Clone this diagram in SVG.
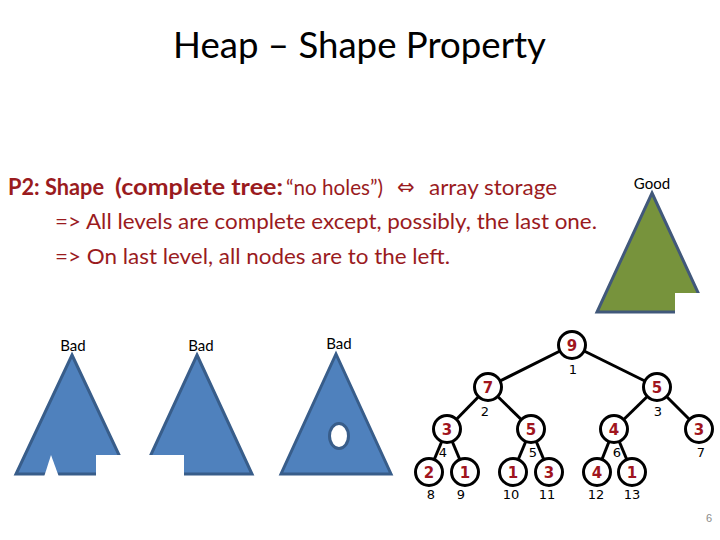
<svg xmlns="http://www.w3.org/2000/svg" width="720" height="540" viewBox="0 0 720 540">
<style>
.title{font-family:Lato,"Liberation Sans",sans-serif;font-size:36px;fill:#000}
.body{font-family:Lato,"Liberation Sans",sans-serif;font-size:22px;fill:#9A1B1E}
.b{font-weight:bold}
.lbl{font-family:Lato,"Liberation Sans",sans-serif;font-size:15px;fill:#000;text-anchor:middle}
.bad{fill:#4F81BD;stroke:#385D8A;stroke-width:3;stroke-linejoin:miter}
.good{fill:#77933C;stroke:#41587A;stroke-width:3}
.wh{fill:#fff;stroke:none}
.node circle{fill:#fff;stroke:#000;stroke-width:3}
.node text{font-family:"DejaVu Sans",Verdana,sans-serif;font-size:15px;font-weight:bold;fill:#A0151E;text-anchor:middle}
.idx{font-family:"DejaVu Sans",Verdana,sans-serif;font-size:13px;fill:#000;text-anchor:middle}
.edges line{stroke:#000;stroke-width:3}
</style>
<rect width="720" height="540" fill="#fff"/>
<text class="title" x="173" y="58" textLength="373" lengthAdjust="spacingAndGlyphs">Heap – Shape Property</text>

<g id="text-lines">
<text class="body"><tspan class="b" x="8" y="195" textLength="96" lengthAdjust="spacingAndGlyphs">P2: Shape</tspan><tspan class="b" x="115" y="195" textLength="168" lengthAdjust="spacingAndGlyphs">(complete tree:</tspan><tspan x="286" y="195" textLength="97" lengthAdjust="spacingAndGlyphs">“no holes”)</tspan><tspan x="397" y="194" style="font-family:'DejaVu Sans',sans-serif;font-size:21px">⇔</tspan><tspan x="429" y="195" textLength="128" lengthAdjust="spacingAndGlyphs">array storage</tspan></text>
<text class="body" x="55" y="229" textLength="542" lengthAdjust="spacingAndGlyphs">=&gt; All levels are complete except, possibly, the last one.</text>
<text class="body" x="55" y="264" textLength="395" lengthAdjust="spacingAndGlyphs">=&gt; On last level, all nodes are to the left.</text>
</g>

<g id="good-shape">
<text class="lbl" x="652" y="189">Good</text>
<polygon class="good" points="652,193 707,312 597,312"/>
<rect class="wh" x="675" y="293" width="40" height="24"/>
</g>

<g id="bad1">
<text class="lbl" x="73" y="351">Bad</text>
<polygon class="bad" points="72,355 128,474 16,474"/>
<rect class="wh" x="96" y="455" width="36" height="24"/>
<polygon class="wh" points="44,477 51,455 59,477"/>
</g>

<g id="bad2">
<text class="lbl" x="201" y="351">Bad</text>
<polygon class="bad" points="197,355 252,474 142,474"/>
<rect class="wh" x="136" y="455" width="48" height="24"/>
</g>

<g id="bad3">
<text class="lbl" x="339" y="349">Bad</text>
<polygon class="bad" points="336,354 391,474 281,474"/>
<ellipse cx="339" cy="436" rx="9.5" ry="12.5" fill="#fff" stroke="#385D8A" stroke-width="3"/>
</g>

<g class="edges" id="connectors">
<line x1="572" y1="345" x2="488" y2="387"/>
<line x1="572" y1="345" x2="657" y2="387"/>
<line x1="488" y1="387" x2="447" y2="429"/>
<line x1="488" y1="387" x2="531" y2="429"/>
<line x1="657" y1="387" x2="614" y2="429"/>
<line x1="657" y1="387" x2="699" y2="429"/>
<line x1="447" y1="429" x2="429" y2="472"/>
<line x1="447" y1="429" x2="465" y2="472"/>
<line x1="531" y1="429" x2="513" y2="472"/>
<line x1="531" y1="429" x2="549" y2="472"/>
<line x1="614" y1="429" x2="597" y2="472"/>
<line x1="614" y1="429" x2="632" y2="472"/>
</g>

<g id="n1" class="node"><circle cx="572" cy="345" r="13.5"/><text x="572" y="350.5">9</text></g>
<g id="n2" class="node"><circle cx="488" cy="387" r="13.5"/><text x="488" y="392.5">7</text></g>
<g id="n3" class="node"><circle cx="657" cy="387" r="13.5"/><text x="657" y="392.5">5</text></g>
<g id="n4" class="node"><circle cx="447" cy="429" r="13.5"/><text x="447" y="434.5">3</text></g>
<g id="n5" class="node"><circle cx="531" cy="429" r="13.5"/><text x="531" y="434.5">5</text></g>
<g id="n6" class="node"><circle cx="614" cy="429" r="13.5"/><text x="614" y="434.5">4</text></g>
<g id="n7" class="node"><circle cx="699" cy="429" r="13.5"/><text x="699" y="434.5">3</text></g>
<g id="n8" class="node"><circle cx="429" cy="472" r="13.5"/><text x="429" y="477.5">2</text></g>
<g id="n9" class="node"><circle cx="465" cy="472" r="13.5"/><text x="465" y="477.5">1</text></g>
<g id="n10" class="node"><circle cx="513" cy="472" r="13.5"/><text x="513" y="477.5">1</text></g>
<g id="n11" class="node"><circle cx="549" cy="472" r="13.5"/><text x="549" y="477.5">3</text></g>
<g id="n12" class="node"><circle cx="597" cy="472" r="13.5"/><text x="597" y="477.5">4</text></g>
<g id="n13" class="node"><circle cx="632" cy="472" r="13.5"/><text x="632" y="477.5">1</text></g>

<g id="indices">
<text class="idx" x="573" y="374">1</text>
<text class="idx" x="485" y="416">2</text>
<text class="idx" x="658" y="416">3</text>
<text class="idx" x="443" y="457">4</text>
<text class="idx" x="533" y="457">5</text>
<text class="idx" x="617" y="457">6</text>
<text class="idx" x="701" y="457">7</text>
<text class="idx" x="431" y="499">8</text>
<text class="idx" x="461" y="499">9</text>
<text class="idx" x="511" y="499">10</text>
<text class="idx" x="547" y="499">11</text>
<text class="idx" x="596" y="499">12</text>
<text class="idx" x="632" y="499">13</text>
</g>

<text x="709" y="522" style="font-family:'Liberation Sans',Arial,sans-serif;font-size:11px;fill:#8B8B8B" text-anchor="middle">6</text>
</svg>
